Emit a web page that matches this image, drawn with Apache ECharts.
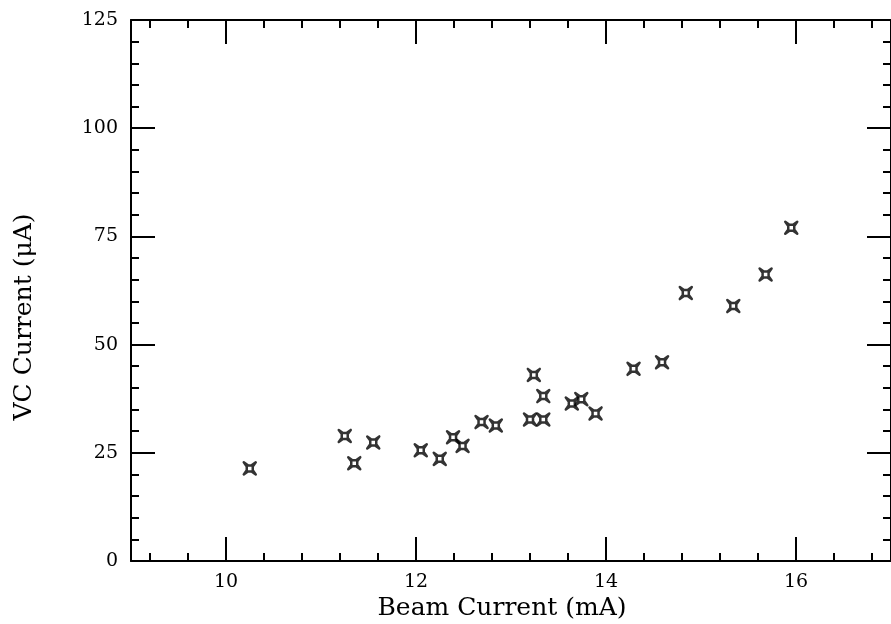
<!DOCTYPE html>
<html>
<head>
<meta charset="utf-8">
<script src="https://cdn.jsdelivr.net/npm/echarts@6/dist/echarts.min.js"></script>
<style>
  html, body { margin: 0; padding: 0; background: #fff; }
  #chart { width: 891px; height: 624px; }
</style>
</head>
<body>
<div id="chart"></div>
<script>
// beam current (mA) / VC current (uA)
var beamCurrent = [10.25, 11.25, 11.35, 11.55, 12.05, 12.25, 12.39, 12.49, 12.69, 12.84,
                   13.20, 13.34, 13.34, 13.24, 13.64, 13.74, 13.89, 14.29, 14.59, 14.84,
                   15.34, 15.68, 15.95];
var vcCurrent = [21.4, 28.9, 22.6, 27.4, 25.6, 23.6, 28.6, 26.6, 32.1, 31.3,
                 32.7, 32.7, 38.1, 43.0, 36.4, 37.4, 34.1, 44.4, 45.9, 61.9,
                 58.9, 66.2, 77.0];

// axis ticks
var xMajorTicks = [10, 12, 14, 16];
var xMinorTicks = [9.2, 9.6, 10.4, 10.8, 11.2, 11.6, 12.4, 12.8, 13.2, 13.6,
                   14.4, 14.8, 15.2, 15.6, 16.4, 16.8];

var FONT = 'DejaVu Serif';

var points = [];
for (var i = 0; i < beamCurrent.length; i++) {
    points.push([beamCurrent[i], vcCurrent[i]]);
}

// little square with short spikes out of the corners
var starPath = 'path://M0,0 L3.5,2.5 L6.5,2.5 L10,0 L7.5,3.5 L7.5,6.5 L10,10 L6.5,7.5 L3.5,7.5 L0,10 L2.5,6.5 L2.5,3.5 Z';

function xAxisDef(pos, ticks, len, withLabels) {
    return {
        type: 'value',
        position: pos,
        min: 9,
        max: 17,
        axisLine: { show: withLabels !== null, lineStyle: { color: '#000', width: 2 } },
        axisTick: {
            show: true, inside: true, length: len,
            customValues: ticks,
            lineStyle: { color: '#000', width: 2 }
        },
        axisLabel: withLabels ? {
            show: true, customValues: xMajorTicks, margin: 12,
            color: '#000', fontFamily: FONT, fontSize: 19
        } : { show: false },
        splitLine: { show: false }
    };
}

function yAxisDef(pos, withLabels) {
    return {
        type: 'value',
        position: pos,
        min: 0,
        max: 125,
        interval: 25,
        axisLine: { show: true, lineStyle: { color: '#000', width: 2 } },
        axisTick: { show: true, inside: true, length: 24, lineStyle: { color: '#000', width: 2 } },
        minorTick: { show: true, splitNumber: 5, length: 8, lineStyle: { color: '#000', width: 2 } },
        axisLabel: withLabels ? {
            show: true, margin: 13, color: '#000', fontFamily: FONT, fontSize: 19
        } : { show: false },
        splitLine: { show: false }
    };
}

var chart = echarts.init(document.getElementById('chart'));
chart.setOption({
    animation: false,
    backgroundColor: '#fff',
    grid: { left: 131, right: 0, top: 20, bottom: 63 },
    xAxis: [
        xAxisDef('bottom', xMajorTicks, 24, true),
        xAxisDef('bottom', xMinorTicks, 8, null),
        xAxisDef('top', xMajorTicks, 24, false),
        xAxisDef('top', xMinorTicks, 8, null)
    ],
    yAxis: [
        yAxisDef('left', true),
        yAxisDef('right', false)
    ],
    graphic: [
        {
            type: 'text',
            x: 502,
            y: 596,
            style: {
                text: 'Beam Current (mA)', fontFamily: FONT, fontSize: 25, fill: '#000',
                align: 'center', verticalAlign: 'top'
            }
        },
        {
            type: 'text',
            x: 12,
            y: 317,
            rotation: Math.PI / 2,
            style: {
                text: 'VC Current (μA)', fontFamily: FONT, fontSize: 25, fill: '#000',
                align: 'center', verticalAlign: 'top'
            }
        }
    ],
    series: [
        {
            type: 'scatter',
            xAxisIndex: 0,
            yAxisIndex: 0,
            symbol: starPath,
            symbolSize: 12,
            itemStyle: {
                color: 'rgba(0,0,0,0)', borderColor: '#000', borderWidth: 2.5,
                borderJoin: 'round'
            },
            data: points
        }
    ]
});
</script>
</body>
</html>
